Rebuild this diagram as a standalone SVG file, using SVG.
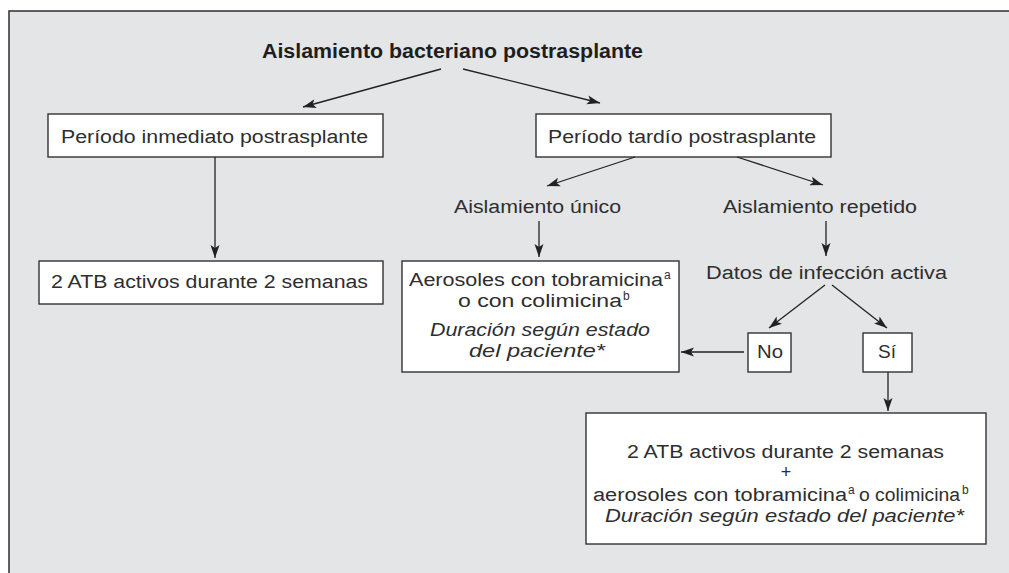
<svg xmlns="http://www.w3.org/2000/svg" width="1009" height="573" viewBox="0 0 1009 573">
<defs>
<marker id="ah" markerUnits="userSpaceOnUse" markerWidth="14" markerHeight="10" viewBox="0 0 14 10" refX="13" refY="5" orient="auto">
<path d="M0,0.5 L13,5 L0,9.5 L3,5 Z" fill="#222"/>
</marker>
<style>
.frame{fill:#e4e5e7;stroke:#3a3a3a;stroke-width:1.6}
.box{fill:#fff;stroke:#333;stroke-width:1.4}
.t{font-family:"Liberation Sans",Arial,sans-serif;font-size:18px;fill:#2e2e2e}
.i{font-style:italic}
.b{font-weight:bold;font-size:19.5px;fill:#1e1e1e}
.sup{font-family:"Liberation Sans",Arial,sans-serif;font-size:12px;fill:#2e2e2e}
.c line{stroke:#222;stroke-width:1.3;marker-end:url(#ah)}
</style>
</defs>
<rect x="0" y="0" width="1009" height="573" fill="#fff"/>
<rect class="frame" x="9" y="11" width="1010" height="580"/>

<g id="title">
<text class="t b" x="262" y="58" textLength="381" lengthAdjust="spacingAndGlyphs">Aislamiento bacteriano postrasplante</text>
</g>

<g id="inmediato">
<rect class="box" x="48" y="114" width="335" height="43"/>
<text class="t" x="61" y="143" textLength="307" lengthAdjust="spacingAndGlyphs">Período inmediato postrasplante</text>
</g>

<g id="tardio">
<rect class="box" x="536" y="114" width="295" height="43"/>
<text class="t" x="548" y="143" textLength="268" lengthAdjust="spacingAndGlyphs">Período tardío postrasplante</text>
</g>

<g id="unico">
<text class="t" x="454" y="213" textLength="167" lengthAdjust="spacingAndGlyphs">Aislamiento único</text>
</g>

<g id="repetido">
<text class="t" x="723" y="213" textLength="194" lengthAdjust="spacingAndGlyphs">Aislamiento repetido</text>
</g>

<g id="atb1">
<rect class="box" x="39" y="261" width="344" height="43"/>
<text class="t" x="51" y="288" textLength="317" lengthAdjust="spacingAndGlyphs">2 ATB activos durante 2 semanas</text>
</g>

<g id="aerosoles">
<rect class="box" x="402" y="261" width="277" height="111"/>
<text class="t" x="409" y="286" textLength="254" lengthAdjust="spacingAndGlyphs">Aerosoles con tobramicina</text>
<text class="sup" x="664" y="279">a</text>
<text class="t" x="458" y="307" textLength="164" lengthAdjust="spacingAndGlyphs">o con colimicina</text>
<text class="sup" x="623" y="300">b</text>
<text class="t i" x="430" y="336" textLength="220" lengthAdjust="spacingAndGlyphs">Duración según estado</text>
<text class="t i" x="469" y="357" textLength="136" lengthAdjust="spacingAndGlyphs">del paciente*</text>
</g>

<g id="datos">
<text class="t" x="706" y="279" textLength="241" lengthAdjust="spacingAndGlyphs">Datos de infección activa</text>
</g>

<g id="no">
<rect class="box" x="748" y="333" width="43" height="39"/>
<text class="t" x="757" y="358" textLength="26" lengthAdjust="spacingAndGlyphs">No</text>
</g>

<g id="si">
<rect class="box" x="863" y="333" width="49" height="39"/>
<text class="t" x="878" y="358" textLength="18" lengthAdjust="spacingAndGlyphs">Sí</text>
</g>

<g id="atb2">
<rect class="box" x="586" y="413" width="400" height="131"/>
<text class="t" x="627" y="458" textLength="317" lengthAdjust="spacingAndGlyphs">2 ATB activos durante 2 semanas</text>
<text class="t" x="786" y="478" text-anchor="middle">+</text>
<text class="t" x="593" y="501" textLength="254" lengthAdjust="spacingAndGlyphs">aerosoles con tobramicina</text>
<text class="sup" x="848" y="494">a</text>
<text class="t" x="859" y="501" textLength="101" lengthAdjust="spacingAndGlyphs">o colimicina</text>
<text class="sup" x="962" y="494">b</text>
<text class="t i" x="605" y="522" textLength="359" lengthAdjust="spacingAndGlyphs">Duración según estado del paciente*</text>
</g>

<g id="connectors" class="c">
<line x1="441" y1="69" x2="303" y2="107"/>
<line x1="463" y1="69" x2="600" y2="103"/>
<line x1="215" y1="157" x2="215" y2="258"/>
<line x1="635" y1="157" x2="547" y2="186"/>
<line x1="737" y1="157" x2="823" y2="185"/>
<line x1="539" y1="221" x2="539" y2="257"/>
<line x1="826" y1="221" x2="826" y2="256"/>
<line x1="825" y1="285" x2="769" y2="328"/>
<line x1="832" y1="285" x2="887" y2="328"/>
<line x1="744" y1="352" x2="681" y2="352"/>
<line x1="888" y1="372" x2="888" y2="411"/>
</g>
</svg>
